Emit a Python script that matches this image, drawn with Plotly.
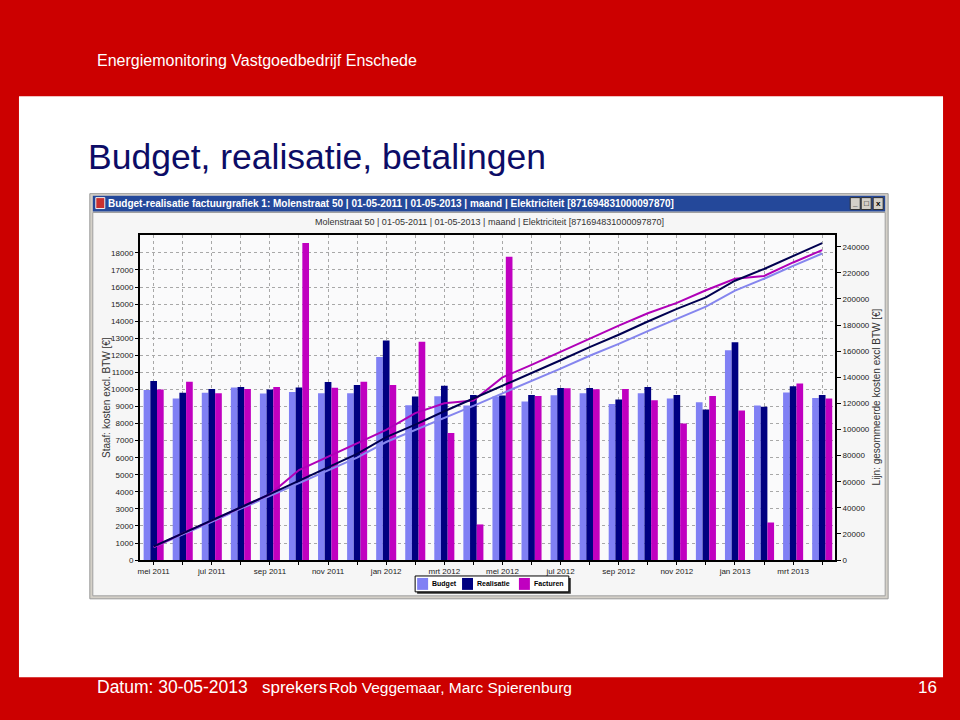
import plotly.graph_objects as go

# ---------------- data ----------------
months = ["mei 2011", "jun 2011", "jul 2011", "aug 2011", "sep 2011", "okt 2011",
          "nov 2011", "dec 2011", "jan 2012", "feb 2012", "mrt 2012", "apr 2012",
          "mei 2012", "jun 2012", "jul 2012", "aug 2012", "sep 2012", "okt 2012",
          "nov 2012", "dec 2012", "jan 2013", "feb 2013", "mrt 2013", "apr 2013"]

budget = [9970, 9470, 9800, 10120, 9760, 9850, 9770, 9780, 11900, 9080, 9600, 9060,
          9580, 9290, 9660, 9780, 9150, 9780, 9470, 9250, 12290, 9060, 9820, 9500]
realisatie = [10500, 9800, 10030, 10150, 10000, 10120, 10440, 10260, 12870, 9580, 10220, 9680,
              9640, 9680, 10090, 10090, 9410, 10140, 9680, 8830, 12760, 8980, 10180, 9680]
facturen = [10000, 10450, 9770, 10030, 10150, 18580, 10100, 10450, 10260, 12800, 7450, 2090,
            17770, 9620, 10070, 10010, 10030, 9370, 8000, 9620, 8770, 2200, 10350, 9470]

budget_cum = [9970, 19440, 29240, 39360, 49120, 58970, 68740, 78520, 90420, 99500, 109100, 118160,
              127740, 137030, 146690, 156470, 165620, 175400, 184870, 194120, 206410, 215470, 225290, 234790]
realisatie_cum = [10500, 20300, 30330, 40480, 50480, 60600, 71040, 81300, 94170, 103750, 113970, 123650,
                  133290, 142970, 153060, 163150, 172560, 182700, 192380, 201210, 213970, 222950, 233130, 242810]
facturen_cum = [10000, 20450, 30220, 40250, 50400, 68980, 79080, 89530, 99790, 112590, 120040, 122130,
                139900, 149520, 159590, 169600, 179630, 189000, 197000, 206620, 215390, 217590, 227940, 237410]

left_ticks = list(range(0, 18001, 1000))
right_ticks = list(range(0, 240001, 20000))

# ---------------- helpers ----------------
W, H = 960, 720
def px(x):
    return x / W
def py(y):
    return 1 - y / H

FONT = "Liberation Sans, Arial, sans-serif"
NARROW = "Liberation Sans Narrow, Liberation Sans, Arial, sans-serif"

C_BUD = "#8080F4"
C_REA = "#000080"
C_FAC = "#C000C0"

idx = list(range(len(months)))
ticktext = [m if i % 2 == 0 else "" for i, m in enumerate(months)]

fig = go.Figure()
fig.add_bar(x=idx, y=budget, name="Budget", marker=dict(color=C_BUD, line=dict(width=0)))
fig.add_bar(x=idx, y=realisatie, name="Realisatie", marker=dict(color=C_REA, line=dict(width=0)))
fig.add_bar(x=idx, y=facturen, name="Facturen", marker=dict(color=C_FAC, line=dict(width=0)))

fig.add_scatter(x=idx, y=budget_cum, yaxis="y2", mode="lines", line=dict(color="#8585EE", width=2), showlegend=False)
fig.add_scatter(x=idx, y=facturen_cum, yaxis="y2", mode="lines", line=dict(color="#B000B8", width=2), showlegend=False)
fig.add_scatter(x=idx, y=realisatie_cum, yaxis="y2", mode="lines", line=dict(color="#000050", width=2), showlegend=False)

PL, PR, PT, PB = 138, 835, 237, 564

shapes = []
def rect(x0, y0, x1, y1, fill, line=None, lw=1):
    shapes.append(dict(type="rect", xref="paper", yref="paper", layer="below",
                       x0=px(x0), x1=px(x1), y0=py(y1), y1=py(y0),
                       fillcolor=fill,
                       line=dict(color=line if line else fill, width=lw if line else 0)))

# slide white area
rect(17, 97, 943, 682, "#FFFFFF")
# window frame
rect(88, 195, 888, 603, "#D4D0C8", "#9A9A9A", 1)
rect(91, 214, 885, 600, "#F6F6F6", "#A0A0A0", 1)
# title bar
rect(91, 197, 885, 213, "#24489A")
# icon
rect(94, 199, 103, 210, "#C83030", "#F0F0F0", 1)
# window buttons
for bx in (850, 861, 873):
    rect(bx, 199, bx + 10, 211, "#D4D0C8", "#303030", 1)
# plot background
rect(PL, PT, PR, PB, "#FAFAFB")

annotations = []
def text(x, y, s, size, color, xanchor="left", yanchor="middle", family=FONT, angle=0, weight="normal"):
    annotations.append(dict(x=px(x), y=py(y), xref="paper", yref="paper", text=s, showarrow=False,
                            xanchor=xanchor, yanchor=yanchor, textangle=angle, borderpad=0,
                            font=dict(size=size, color=color, family=family, weight=weight)))

# slide texts
text(94, 61, "Energiemonitoring Vastgoedbedrijf Enschede", 16, "#FFFFFF")
text(85, 158, "Budget, realisatie, betalingen", 35.5, "#0C0C66")
text(94, 692, "Datum: 30-05-2013", 17.5, "#FFFFFF")
text(260, 692, "sprekers", 17, "#FFFFFF")
text(327, 692, "Rob Veggemaar, Marc Spierenburg", 15.5, "#FFFFFF")
text(938, 692, "16", 17, "#FFFFFF", xanchor="right")

# window texts
text(105, 205, "Budget-realisatie factuurgrafiek 1: Molenstraat 50 | 01-05-2011 | 01-05-2013 | maand | Elektriciteit [871694831000097870]",
     10, "#FFFFFF", family=NARROW, weight="bold")
for bx, s in ((850, "_"), (861, "□"), (873, "x")):
    text(bx + 5, 205, s, 8, "#000000", xanchor="center", weight="bold")
text(489, 224, "Molenstraat 50 | 01-05-2011 | 01-05-2013 | maand | Elektriciteit [871694831000097870]",
     9, "#333333", xanchor="center", family=NARROW)

# axis titles
text(104, 400, "Staaf: kosten excl. BTW [€]", 10, "#333333", xanchor="center", angle=-90)
text(876, 400, "Lijn: gesommeerde kosten excl BTW [€]", 10, "#333333", xanchor="center", angle=-90)

# manual legend
rect(416, 582, 570, 598, "#303030")
rect(414, 580, 568, 596, "#FFFFFF", "#000000", 1)
for sx, col, lab in ((416, C_BUD, "Budget"), (461, C_REA, "Realisatie"), (518, C_FAC, "Facturen")):
    rect(sx, 582, sx + 11, 594, col)
    text(sx + 14, 588, lab, 7, "#000000", weight="bold")

fig.update_layout(
    width=W, height=H,
    margin=dict(l=0, r=0, t=0, b=0),
    paper_bgcolor="#CC0000",
    plot_bgcolor="rgba(0,0,0,0)",
    showlegend=False,
    barmode="group",
    bargap=0.31,
    bargroupgap=0,
    font=dict(family=FONT, size=8, color="#222222"),
    shapes=shapes,
    annotations=annotations,
    xaxis=dict(domain=[px(PL), px(PR)], range=[-0.48, 23.45],
               tickmode="array", tickvals=idx, ticktext=ticktext,
               ticks="outside", ticklen=3, tickcolor="#000000",
               showgrid=True, gridcolor="#A8A8A8", griddash="dot", gridwidth=1,
               showline=True, linecolor="#000000", linewidth=1.5, mirror=True,
               tickfont=dict(size=8, color="#222222"), zeroline=False, fixedrange=True),
    yaxis=dict(domain=[py(PB), py(PT)], range=[0, 19030],
               tickmode="array", tickvals=left_ticks, ticktext=[str(v) for v in left_ticks],
               ticks="outside", ticklen=3, tickcolor="#000000",
               showgrid=True, gridcolor="#A8A8A8", griddash="dot", gridwidth=1,
               showline=True, linecolor="#000000", linewidth=1.5,
               tickfont=dict(size=8, color="#222222"), zeroline=False),
    yaxis2=dict(overlaying="y", side="right", range=[0, 248700],
                tickmode="array", tickvals=right_ticks, ticktext=[str(v) for v in right_ticks],
                ticks="outside", ticklen=4, tickcolor="#000000",
                showgrid=False, showline=True, linecolor="#000000", linewidth=1.5,
                tickfont=dict(size=8, color="#222222"), zeroline=False),
)

fig.write_html("out.html")
